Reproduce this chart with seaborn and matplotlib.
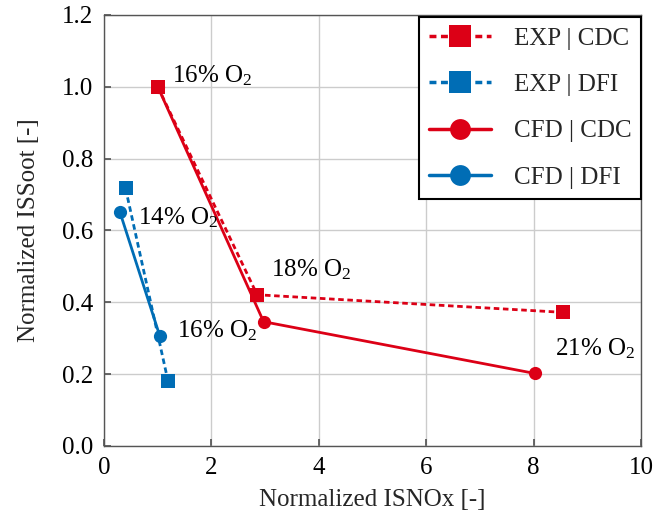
import matplotlib
matplotlib.use("Agg")
import matplotlib.pyplot as plt
import seaborn as sns
import pandas as pd
from matplotlib.lines import Line2D

# data
exp_cdc_x = [1.0, 2.85, 8.55]
exp_cdc_y = [1.0, 0.421, 0.372]
exp_dfi_x = [0.40, 1.19]
exp_dfi_y = [0.717, 0.181]
cfd_cdc_x = [1.0, 2.97, 8.02]
cfd_cdc_y = [1.0, 0.346, 0.202]
cfd_dfi_x = [0.295, 1.04]
cfd_dfi_y = [0.651, 0.305]

labels_text = ["16% O$_2$", "14% O$_2$", "18% O$_2$", "16% O$_2$", "21% O$_2$"]
labels_x = [1.27, 0.63, 3.1, 1.36, 8.39]
labels_y = [1.03, 0.635, 0.49, 0.32, 0.27]

RED = "#DC0016"
BLUE = "#006DB5"
DASH = (2.0, 1.3)

sns.set_theme(style="white")
plt.rcParams["font.family"] = ["Liberation Serif", "DejaVu Serif"]
plt.rcParams["mathtext.fontset"] = "custom"
plt.rcParams["mathtext.rm"] = "Liberation Serif"
plt.rcParams["mathtext.it"] = "Liberation Serif:italic"

FS = 18

fig = plt.figure(figsize=(6.63, 5.15), dpi=100)
ax = fig.add_axes([0.157, 0.134, 0.81, 0.837])

series = [
    ("EXP | CDC", exp_cdc_x, exp_cdc_y, RED, "s", "--", 10),
    ("EXP | DFI", exp_dfi_x, exp_dfi_y, BLUE, "s", "--", 10),
    ("CFD | CDC", cfd_cdc_x, cfd_cdc_y, RED, "o", "-", 9.5),
    ("CFD | DFI", cfd_dfi_x, cfd_dfi_y, BLUE, "o", "-", 9.5),
]
order_draw = [2, 3, 0, 1]
for i in order_draw:
    name, xs, ys, c, m, ls, ms = series[i]
    df = pd.DataFrame({"x": xs, "y": ys})
    sns.lineplot(data=df, x="x", y="y", ax=ax, sort=False, color=c, marker=m,
                 markersize=ms, markeredgewidth=0, linewidth=2,
                 legend=False)
    if ls == "--":
        ax.lines[-1].set_dashes(DASH)

for t, x, y in zip(labels_text, labels_x, labels_y):
    ax.text(x, y, t, fontsize=FS, va="center", ha="left", color="black")

ax.set_xlim(0, 10)
ax.set_ylim(0, 1.2)
ax.set_xticks([0, 2, 4, 6, 8, 10])
ax.set_yticks([0, 0.2, 0.4, 0.6, 0.8, 1.0, 1.2])
ax.set_yticklabels([f"{v:.1f}" for v in [0, 0.2, 0.4, 0.6, 0.8, 1.0, 1.2]])
ax.grid(True, color="#cccccc", linewidth=1)
ax.set_axisbelow(True)
ax.tick_params(direction="in", length=5, color="#555555", labelsize=FS, pad=8,
               bottom=True, left=True, labelcolor="black")
for s in ax.spines.values():
    s.set_color("#555555")
    s.set_linewidth(1)
ax.set_xlabel("Normalized ISNOx [-]", fontsize=FS, labelpad=7)
ax.set_ylabel("Normalized ISSoot [-]", fontsize=FS, labelpad=16)

handles = []
for name, xs, ys, c, m, ls, ms in series:
    h = Line2D([0], [0], color=c, marker=m, markersize=16 if m == "s" else 15,
               markeredgewidth=0, linewidth=2.5, linestyle="-")
    if ls == "--":
        h.set_dashes((2.0, 1.3))
    handles.append(h)
leg = ax.legend(handles, [s[0] for s in series], loc="upper right", fontsize=FS,
                frameon=True, fancybox=False, edgecolor="black", framealpha=1,
                borderaxespad=0.1, handlelength=2.5, labelspacing=0.95,
                borderpad=0.4, handletextpad=0.9, bbox_to_anchor=(1.005, 1.0))
leg.get_frame().set_linewidth(1.5)

fig.savefig("out.png", dpi=100)
